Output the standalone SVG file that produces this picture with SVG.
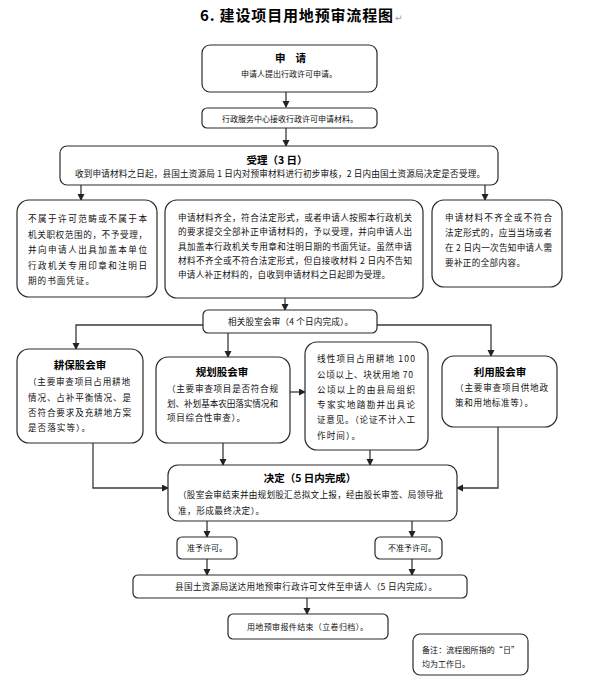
<svg xmlns="http://www.w3.org/2000/svg" width="595" height="689" viewBox="0 0 595 689">
<defs>
<style>
.bx{fill:#fff;stroke:#2a2a2a;stroke-width:1.2}
.ln{fill:none;stroke:#3a3a3a;stroke-width:1.3}
.t{font-family:"Noto Sans CJK SC","Noto Sans",sans-serif;font-size:8.6px;fill:#111}
.s{font-size:8px}
.h{font-family:"Noto Sans CJK SC","Noto Sans",sans-serif;font-size:10.5px;font-weight:bold;fill:#000}
.ttl{font-family:"Noto Sans CJK SC","Noto Sans",sans-serif;font-size:15px;font-weight:bold;fill:#000}
</style>
<marker id="ar" markerWidth="8" markerHeight="8" refX="6" refY="3.5" orient="auto" markerUnits="userSpaceOnUse">
<path d="M0,0 L7,3.5 L0,7 Z" fill="#222"/>
</marker>
</defs>
<rect width="595" height="689" fill="#fff"/>

<g id="title">
<text class="ttl" x="200" y="21" textLength="193" lengthAdjust="spacing">6. 建设项目用地预审流程图</text>
<text x="395" y="21" font-family="DejaVu Sans,sans-serif" font-size="9" fill="#999">↵</text>
</g>

<g id="connectors">
<line class="ln" x1="286" y1="92" x2="286" y2="107" marker-end="url(#ar)"/>
<line class="ln" x1="286" y1="128" x2="286" y2="146" marker-end="url(#ar)"/>
<line class="ln" x1="81" y1="185" x2="81" y2="200" marker-end="url(#ar)"/>
<line class="ln" x1="485" y1="185" x2="485" y2="200" marker-end="url(#ar)"/>
<line class="ln" x1="285" y1="298" x2="285" y2="310" marker-end="url(#ar)"/>
<polyline class="ln" points="203,325 76,325 76,349" marker-end="url(#ar)"/>
<line class="ln" x1="228" y1="333" x2="228" y2="357" marker-end="url(#ar)"/>
<polyline class="ln" points="377,325 491,325 491,356" marker-end="url(#ar)"/>
<line class="ln" x1="290" y1="392" x2="305" y2="392" marker-end="url(#ar)"/>
<polyline class="ln" points="93,443 93,488 168,488" marker-end="url(#ar)"/>
<line class="ln" x1="223" y1="443" x2="223" y2="465" marker-end="url(#ar)"/>
<line class="ln" x1="370" y1="450" x2="370" y2="465" marker-end="url(#ar)"/>
<polyline class="ln" points="498,427 498,488 457,488" marker-end="url(#ar)"/>
<line class="ln" x1="207" y1="521" x2="207" y2="537" marker-end="url(#ar)"/>
<line class="ln" x1="412" y1="521" x2="412" y2="537" marker-end="url(#ar)"/>
<line class="ln" x1="207" y1="559" x2="207" y2="575" marker-end="url(#ar)"/>
<line class="ln" x1="412" y1="559" x2="412" y2="575" marker-end="url(#ar)"/>
<line class="ln" x1="307" y1="598" x2="307" y2="614" marker-end="url(#ar)"/>
</g>

<g id="apply">
<rect class="bx" x="202" y="45" width="175" height="47" rx="8"/>
<text class="h" x="275" y="62" font-size="11" textLength="31" lengthAdjust="spacing">申请</text>
<text class="t s" x="241" y="77" textLength="96" lengthAdjust="spacing">申请人提出行政许可申请。</text>
</g>

<g id="receive">
<rect class="bx" x="202" y="108" width="175" height="20" rx="5"/>
<text class="t s" x="222" y="122" textLength="136" lengthAdjust="spacing">行政服务中心接收行政许可申请材料。</text>
</g>

<g id="accept">
<rect class="bx" x="60" y="146" width="438" height="39" rx="7"/>
<text class="h" x="277" y="164" text-anchor="middle" font-size="10">受理（3 日）</text>
<text class="t" x="75" y="177" textLength="410" lengthAdjust="spacing">收到申请材料之日起，县国土资源局 1 日内对预审材料进行初步审核，2 日内由国土资源局决定是否受理。</text>
</g>

<g id="reject">
<rect class="bx" x="17" y="200" width="140" height="97" rx="12"/>
<text class="t" x="28" y="222" textLength="119" lengthAdjust="spacing">不属于许可范畴或不属于本</text>
<text class="t" x="28" y="237.5" textLength="119" lengthAdjust="spacing">机关职权范围的，不予受理，</text>
<text class="t" x="28" y="253" textLength="119" lengthAdjust="spacing">并向申请人出具加盖本单位</text>
<text class="t" x="28" y="268.5" textLength="119" lengthAdjust="spacing">行政机关专用印章和注明日</text>
<text class="t" x="28" y="284" textLength="66" lengthAdjust="spacing">期的书面凭证。</text>
</g>

<g id="accepted">
<rect class="bx" x="165" y="200" width="258" height="98" rx="12"/>
<text class="t" x="178" y="221" textLength="234" lengthAdjust="spacing">申请材料齐全，符合法定形式，或者申请人按照本行政机关</text>
<text class="t" x="178" y="235.3" textLength="234" lengthAdjust="spacing">的要求提交全部补正申请材料的，予以受理，并向申请人出</text>
<text class="t" x="178" y="249.6" textLength="234" lengthAdjust="spacing">具加盖本行政机关专用章和注明日期的书面凭证。虽然申请</text>
<text class="t" x="178" y="263.9" textLength="234" lengthAdjust="spacing">材料不齐全或不符合法定形式，但自接收材料 2 日内不告知</text>
<text class="t" x="178" y="278.2" textLength="212" lengthAdjust="spacing">申请人补正材料的，自收到申请材料之日起即为受理。</text>
</g>

<g id="supplement">
<rect class="bx" x="432" y="200" width="130" height="87" rx="12"/>
<text class="t" x="445" y="221" textLength="107" lengthAdjust="spacing">申请材料不齐全或不符合</text>
<text class="t" x="445" y="236" textLength="107" lengthAdjust="spacing">法定形式的，应当当场或者</text>
<text class="t" x="445" y="251" textLength="107" lengthAdjust="spacing">在 2 日内一次告知申请人需</text>
<text class="t" x="445" y="266" textLength="80" lengthAdjust="spacing">要补正的全部内容。</text>
</g>

<g id="joint">
<rect class="bx" x="203" y="310" width="174" height="23" rx="5"/>
<text class="t" x="228" y="325" textLength="125" lengthAdjust="spacing">相关股室会审（4 个日内完成）。</text>
</g>

<g id="farmland">
<rect class="bx" x="17" y="349" width="126" height="94" rx="12"/>
<text class="h" x="80" y="369" text-anchor="middle">耕保股会审</text>
<text class="t" x="28" y="385" textLength="102" lengthAdjust="spacing">（主要审查项目占用耕地</text>
<text class="t" x="28" y="400.5" textLength="103" lengthAdjust="spacing">情况、占补平衡情况、是</text>
<text class="t" x="28" y="416" textLength="103" lengthAdjust="spacing">否符合要求及充耕地方案</text>
<text class="t" x="28" y="431" textLength="62" lengthAdjust="spacing">是否落实等）。</text>
</g>

<g id="planning">
<rect class="bx" x="156" y="357" width="134" height="86" rx="12"/>
<text class="h" x="222" y="376" text-anchor="middle">规划股会审</text>
<text class="t" x="167" y="392" textLength="111" lengthAdjust="spacing">（主要审查项目是否符合规</text>
<text class="t" x="167" y="407" textLength="111" lengthAdjust="spacing">划、补划基本农田落实情况和</text>
<text class="t" x="167" y="421" textLength="78" lengthAdjust="spacing">项目综合性审查）。</text>
</g>

<g id="linear">
<rect class="bx" x="305" y="342" width="123" height="108" rx="12"/>
<text class="t" x="317" y="362" textLength="98" lengthAdjust="spacing">线性项目占用耕地 100</text>
<text class="t" x="317" y="378" textLength="96" lengthAdjust="spacing">公顷以上、块状用地 70</text>
<text class="t" x="317" y="393" textLength="98" lengthAdjust="spacing">公顷以上的由县局组织</text>
<text class="t" x="317" y="408" textLength="98" lengthAdjust="spacing">专家实地踏勘并出具论</text>
<text class="t" x="317" y="423" textLength="98" lengthAdjust="spacing">证意见。（论证不计入工</text>
<text class="t" x="317" y="439" textLength="43" lengthAdjust="spacing">作时间）。</text>
</g>

<g id="landuse">
<rect class="bx" x="442" y="356" width="115" height="71" rx="12"/>
<text class="h" x="500" y="376" text-anchor="middle">利用股会审</text>
<text class="t" x="455" y="391" textLength="93" lengthAdjust="spacing">（主要审查项目供地政</text>
<text class="t" x="455" y="406" textLength="78" lengthAdjust="spacing">策和用地标准等）。</text>
</g>

<g id="decision">
<rect class="bx" x="168" y="465" width="289" height="56" rx="10"/>
<text class="h" x="310" y="482" text-anchor="middle">决定（5 日内完成）</text>
<text class="t" x="178" y="498" textLength="265" lengthAdjust="spacing">（股室会审结束并由规划股汇总拟文上报，经由股长审签、局领导批</text>
<text class="t" x="178" y="514" textLength="86" lengthAdjust="spacing">准，形成最终决定）。</text>
</g>

<g id="grant">
<rect class="bx" x="177" y="537" width="60" height="22" rx="5"/>
<text class="t s" x="187" y="551" textLength="40" lengthAdjust="spacing">准予许可。</text>
</g>

<g id="deny">
<rect class="bx" x="375" y="537" width="67" height="22" rx="5"/>
<text class="t s" x="388" y="551" textLength="48" lengthAdjust="spacing">不准予许可。</text>
</g>

<g id="deliver">
<rect class="bx" x="133" y="575" width="334" height="23" rx="5"/>
<text class="t" x="175" y="589.5" textLength="262" lengthAdjust="spacing">县国土资源局送达用地预审行政许可文件至申请人（5 日内完成）。</text>
</g>

<g id="finish">
<rect class="bx" x="228" y="614" width="160" height="25" rx="5"/>
<text class="t s" x="247" y="630" textLength="121" lengthAdjust="spacing">用地预审报件结束（立卷归档）。</text>
</g>

<g id="note">
<rect class="bx" x="413" y="634" width="115" height="41" rx="7"/>
<text class="t s" x="422" y="653" textLength="97" lengthAdjust="spacing">备注：流程图所指的“日”</text>
<text class="t s" x="422" y="667" textLength="48" lengthAdjust="spacing">均为工作日。</text>
</g>
</svg>
